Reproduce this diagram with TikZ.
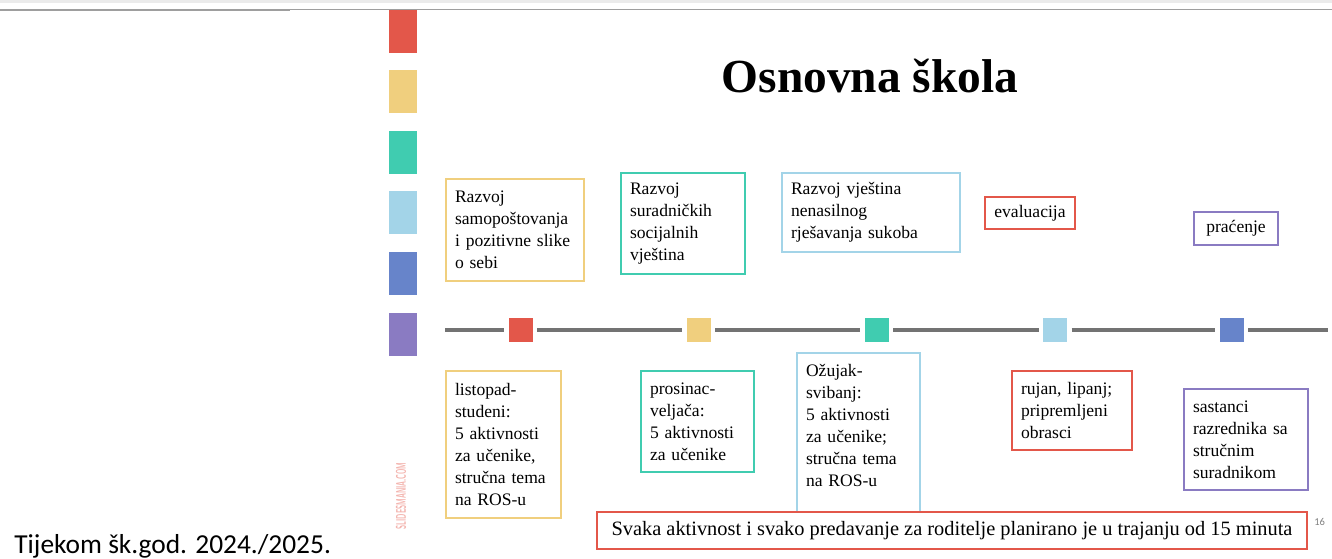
\documentclass[tikz,border=0pt]{standalone}
\usepackage{fontspec}
\setmainfont{Liberation Serif}
\newfontfamily\calibri{Carlito}

\definecolor{tred}{HTML}{E3574A}
\definecolor{tyellow}{HTML}{F0CF7E}
\definecolor{tteal}{HTML}{40CCB0}
\definecolor{tlblue}{HTML}{A3D4E8}
\definecolor{tblue}{HTML}{6784CA}
\definecolor{tpurple}{HTML}{8A7BC2}

\begin{document}
\begin{tikzpicture}[x=0.02cm,y=-0.02cm,
    box/.style={draw=#1, line width=1.3pt, fill=white, inner sep=0.18cm,
                align=left, font=\fontsize{10}{12.5}\selectfont},
    smallbox/.style={draw=#1, line width=1.3pt, fill=white, inner sep=0.1cm,
                font=\fontsize{10}{12.5}\selectfont},
    mark node/.style={fill=#1, minimum size=0.48cm, inner sep=0pt, outer sep=0.09cm},
    time line/.style={draw=black!55, line width=2pt}]

    \useasboundingbox (0,0) rectangle (1332,558);

    % Frame lines
    \draw[black!8, line width=0.05cm] (0,1.5) -- (1332,1.5);
    \draw[black!38, line width=0.04cm] (0,9.5) -- (290,9.5);
    \draw[black!38, line width=0.03cm] (290,9.5) -- (1332,9.5);

    % Colour bars
    \foreach \c/\y in {tred/10, tyellow/70, tteal/131, tlblue/191, tblue/252, tpurple/313}
        \fill[\c] (389,\y) rectangle (417,{\y+43});
    \node[rotate=90, text=tred!45, inner sep=0pt] (mania) at (401,496)
        {\resizebox{1.34cm}{0.2cm}{\sffamily\bfseries SLIDESMANIA.COM}};

    % Title
    \node[font=\fontsize{27}{30}\selectfont\bfseries, anchor=base] (title) at (870,92) {Osnovna škola};

    % Top boxes
    \node[box=tyellow, minimum width=2.76cm, minimum height=2.04cm, text width=2.4cm]
        (goal1) at (515,230) {Razvoj\\ samopoštovanja\\ i pozitivne slike\\ o sebi};
    \node[box=tteal, minimum width=2.48cm, minimum height=2.02cm, text width=2.12cm]
        (goal2) at (683,223.5) {Razvoj\\ suradničkih\\ socijalnih\\ vještina};
    \node[box=tlblue, minimum width=3.56cm, minimum height=1.58cm, text width=3.2cm]
        (goal3) at (871,212.5) {Razvoj vještina\\ nenasilnog\\ rješavanja sukoba};
    \node[smallbox=tred, minimum width=1.8cm, minimum height=0.64cm]
        (goal4) at (1030,213) {evaluacija};
    \node[smallbox=tpurple, minimum width=1.68cm, minimum height=0.66cm]
        (goal5) at (1236,228.5) {praćenje};

    % Time line
    \coordinate (tstart) at (445,330);
    \coordinate (tend) at (1328,330);
    \node[mark node=tred] (m1) at (520.5,330) {};
    \node[mark node=tyellow] (m2) at (698.5,330) {};
    \node[mark node=tteal] (m3) at (876.5,330) {};
    \node[mark node=tlblue] (m4) at (1055,330) {};
    \node[mark node=tblue] (m5) at (1231.5,330) {};
    \draw[time line] (tstart) -- (m1) -- (m2) -- (m3) -- (m4) -- (m5) -- (tend);

    % Bottom boxes
    \node[box=tyellow, minimum width=2.3cm, minimum height=2.94cm, text width=1.94cm]
        (when1) at (503.5,444.5) {listopad-\\ studeni:\\ 5 aktivnosti\\ za učenike,\\ stručna tema\\ na ROS-u};
    \node[box=tteal, minimum width=2.26cm, minimum height=2.02cm, text width=1.9cm]
        (when2) at (697.5,421.5) {prosinac-\\ veljača:\\ 5 aktivnosti\\ za učenike};
    \node[box=tlblue, minimum width=2.46cm, minimum height=3.34cm, text width=2.1cm]
        (when3) at (858.5,436.5) {Ožujak-\\ svibanj:\\ 5 aktivnosti\\ za učenike;\\ stručna tema\\ na ROS-u\\ \mbox{}};
    \node[box=tred, minimum width=2.4cm, minimum height=1.58cm, text width=2.04cm]
        (when4) at (1072,410.5) {rujan, lipanj;\\ pripremljeni\\ obrasci};
    \node[box=tpurple, minimum width=2.48cm, minimum height=2.02cm, text width=2.12cm]
        (when5) at (1246,439.5) {sastanci\\ razrednika sa\\ stručnim\\ suradnikom};

    % Note
    \node[draw=tred, line width=1.3pt, fill=white, minimum width=14.2cm, minimum height=0.74cm,
          font=\fontsize{11.6}{13}\selectfont] (note) at (952,530.5)
        {Svaka aktivnost i svako predavanje za roditelje planirano je u trajanju od 15 minuta};
    \node[anchor=base west, font=\calibri\fontsize{6}{7}\selectfont, text=black!50, inner sep=0pt]
        (page) at (1314,525) {16};

    % Caption
    \node[anchor=base west, font=\calibri\fontsize{15.6}{19}\selectfont, inner sep=0pt]
        (caption) at (14,553) {Tijekom šk.god. 2024./2025.};

\end{tikzpicture}
\end{document}
